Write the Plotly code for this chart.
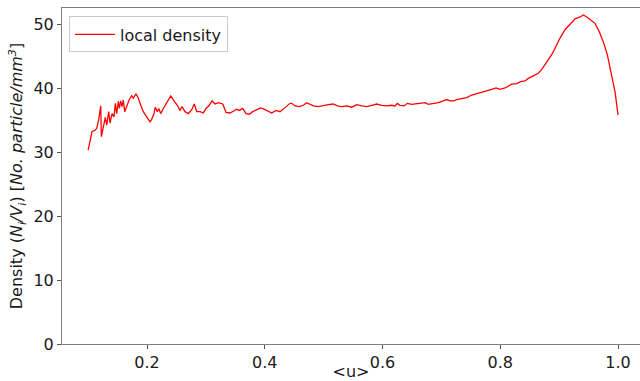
import plotly.graph_objects as go

u_vals = [0.100, 0.1032, 0.1066, 0.1117, 0.1146, 0.1180, 0.1214, 0.1224, 0.1258, 0.1292,
          0.1316, 0.1349, 0.1372, 0.1406, 0.1440, 0.1462, 0.1485, 0.1513, 0.1530, 0.1553,
          0.1575, 0.1597, 0.1621, 0.1655, 0.1699, 0.1740, 0.1767, 0.1813, 0.1852, 0.1893,
          0.1937, 0.1995, 0.2051, 0.2080, 0.2119, 0.2141, 0.2175, 0.2199, 0.2233, 0.2277,
          0.2345, 0.2403, 0.2459, 0.2515, 0.2560, 0.2594, 0.2645, 0.2701, 0.2759, 0.2803,
          0.2844, 0.2900, 0.2956, 0.3002, 0.3058, 0.3104, 0.3155, 0.3211, 0.3286, 0.3342,
          0.3410, 0.3478, 0.3524, 0.3568, 0.3625, 0.3682, 0.3738, 0.3795, 0.3863, 0.3931,
          0.3987, 0.4060, 0.4118, 0.4191, 0.4259, 0.4315, 0.4383, 0.4429, 0.4458, 0.4514,
          0.4587, 0.4655, 0.4712, 0.4769, 0.4825, 0.4910, 0.4994, 0.5079, 0.5164, 0.5232,
          0.5307, 0.5392, 0.5477, 0.5562, 0.5647, 0.5732, 0.5817, 0.5901, 0.5986, 0.6071,
          0.6156, 0.6212, 0.6251, 0.6297, 0.6365, 0.6421, 0.6496, 0.6581, 0.6666, 0.6722,
          0.6778, 0.6863, 0.6948, 0.7033, 0.7090, 0.7146, 0.7214, 0.7260, 0.7345, 0.7430,
          0.7515, 0.7600, 0.7685, 0.7770, 0.7855, 0.7928, 0.7996, 0.8081, 0.8137, 0.8195,
          0.8280, 0.8347, 0.8420, 0.8476, 0.8561, 0.8646, 0.8704, 0.8789, 0.8874, 0.8930,
          0.9015, 0.9100, 0.9185, 0.9270, 0.9355, 0.9411, 0.9468, 0.9536, 0.9609, 0.9682,
          0.9750, 0.9818, 0.9881, 0.9949, 1.0000]

density = [30.3, 31.6, 33.2, 33.4, 33.7, 35.1, 37.2, 32.4, 33.7, 35.4,
           34.2, 36.3, 34.5, 36.0, 35.5, 37.6, 36.0, 37.9, 36.8, 38.0,
           37.1, 38.1, 36.3, 37.3, 38.2, 38.8, 38.4, 39.1, 38.4, 37.3,
           36.3, 35.5, 34.7, 35.1, 36.0, 37.0, 36.3, 36.8, 36.0, 36.8,
           37.9, 38.75, 38.0, 37.3, 36.5, 37.1, 36.3, 36.0, 36.6, 37.5,
           36.3, 36.3, 36.1, 36.8, 37.3, 38.0, 37.5, 37.7, 37.5, 36.2,
           36.1, 36.5, 36.7, 36.5, 36.8, 36.0, 35.9, 36.3, 36.6, 36.9,
           36.7, 36.3, 36.1, 36.5, 36.3, 36.7, 37.3, 37.6, 37.6, 37.2,
           37.1, 37.3, 37.7, 37.5, 37.2, 37.1, 37.3, 37.4, 37.5, 37.2,
           37.1, 37.2, 37.0, 37.4, 37.2, 37.1, 37.3, 37.5, 37.3, 37.2,
           37.3, 37.2, 37.6, 37.3, 37.2, 37.6, 37.45, 37.5, 37.6, 37.7,
           37.45, 37.6, 37.7, 38.0, 38.2, 38.0, 38.0, 38.2, 38.4, 38.5,
           38.9, 39.1, 39.3, 39.6, 39.8, 40.0, 39.8, 40.0, 40.3, 40.6,
           40.7, 41.0, 41.1, 41.5, 41.9, 42.3, 42.9, 44.0, 45.2, 46.2,
           47.8, 49.1, 50.0, 50.8, 51.1, 51.4, 51.1, 50.6, 50.1, 48.8,
           47.2, 45.2, 42.5, 39.4, 35.8]

x_ticks = [0.2, 0.4, 0.6, 0.8, 1.0]
y_ticks = [0, 10, 20, 30, 40, 50]

fig = go.Figure()
fig.add_trace(go.Scatter(
    x=u_vals, y=density, mode="lines", name="local density",
    line=dict(color="red", width=1.3),
))

axis_common = dict(
    showgrid=False, zeroline=False, showline=True, mirror=True,
    linecolor="#808080", linewidth=1, ticks="outside", ticklen=4,
    tickcolor="#555555", automargin=False,
    tickfont=dict(family="DejaVu Sans", size=16, color="#1a1a1a"),
)

fig.update_layout(
    width=640, height=381,
    margin=dict(l=62, r=0, t=8, b=37),
    paper_bgcolor="white", plot_bgcolor="white",
    font=dict(family="DejaVu Sans", size=16, color="#1a1a1a"),
    xaxis=dict(range=[0.0556, 1.0373], tickvals=x_ticks,
               ticktext=[f"{v:.1f}" for v in x_ticks],
               title=dict(text="&lt;u&gt;", standoff=0,
                          font=dict(family="DejaVu Sans", size=16)),
               **axis_common),
    yaxis=dict(range=[0, 52.5], tickvals=y_ticks,
               title=dict(text="Density (<i>N<sub>i</sub>/V<sub>i</sub></i>) [<i>No. particle/mm<sup>3</sup></i>]",
                          standoff=6, font=dict(family="DejaVu Sans", size=16)),
               **axis_common),
    showlegend=True,
    legend=dict(x=0.012, y=0.975, xanchor="left", yanchor="top",
                itemwidth=40,
                bgcolor="rgba(255,255,255,0.8)", bordercolor="#cccccc", borderwidth=1,
                font=dict(family="DejaVu Sans", size=16, color="#1a1a1a")),
)

fig.write_html("out.html")
